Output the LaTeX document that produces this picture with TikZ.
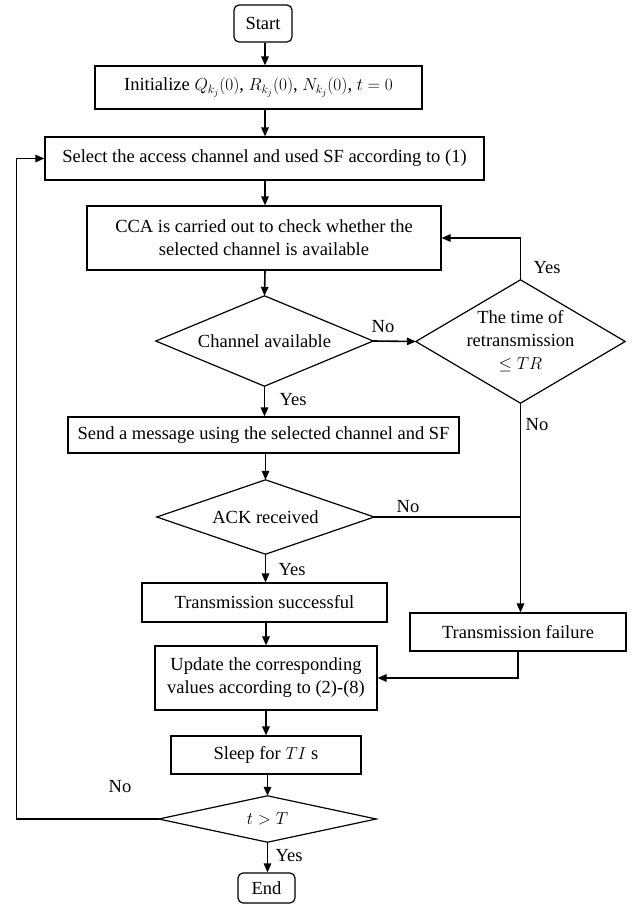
\documentclass[tikz,border=0pt]{standalone}
\usepackage{fontspec}
\setmainfont{Liberation Serif}
\usetikzlibrary{arrows.meta,calc}
\newcommand\flfont{\fontsize{18.5}{23}\selectfont}
\begin{document}
\begin{tikzpicture}[x=1pt,y=-1pt,
  box/.style={draw,line width=1.2pt,inner sep=0pt,align=center,font=\flfont},
  term/.style={box,rounded corners=5pt},
  dia/.style={inner sep=0pt,align=center,font=\flfont},
  diaedge/.style={line width=1.2pt,line join=miter},
  arr/.style={line width=1.6pt,-{Triangle[length=9pt,width=7.5pt]}},
  ln/.style={line width=1.2pt},
  lab/.style={inner sep=0pt,font=\flfont}]
\useasboundingbox (0,0) rectangle (635,905);
% nodes
\node[term,minimum width=58pt,minimum height=37pt] (start) at (263,23.5) {Start};
\node[box,minimum width=327pt,minimum height=43pt] (init) at (258.5,87.5)
  {Initialize $Q_{k_j}(0)$, $R_{k_j}(0)$, $N_{k_j}(0)$, $t=0$};
\node[box,minimum width=439pt,minimum height=43pt] (select) at (264.5,158.5)
  {Select the access channel and used SF according to (1)};
\node[box,minimum width=354pt,minimum height=64pt] (cca) at (264,238)
  {CCA is carried out to check whether the\\selected channel is available};
\node[dia,minimum width=217pt,minimum height=90pt] (d1) at (264.5,341) {Channel available};
\node[dia,minimum width=209pt,minimum height=123pt] (d2) at (520.5,341.5)
  {The time of\\retransmission\\$\leq TR$};
\node[box,minimum width=391pt,minimum height=36pt] (send) at (263.5,435)
  {Send a message using the selected channel and SF};
\node[dia,minimum width=217pt,minimum height=74pt] (d3) at (265.5,517) {ACK received};
\node[box,minimum width=245pt,minimum height=39pt] (succ) at (264.5,602.5)
  {Transmission successful};
\node[box,minimum width=216pt,minimum height=38pt] (fail) at (518,632)
  {Transmission failure};
\node[box,minimum width=222pt,minimum height=64pt] (upd) at (266,678)
  {Update the corresponding\\values according to (2)-(8)};
\node[box,minimum width=190pt,minimum height=38pt] (sleep) at (266,755)
  {Sleep for $TI$ s};
\node[dia,minimum width=217pt,minimum height=46pt] (d4) at (267.5,819) {$t>T$};
\node[term,minimum width=57pt,minimum height=30pt] (end) at (266.5,888) {End};
% diamond outlines
\foreach \d in {d1,d2,d3,d4}
  \draw[diaedge] (\d.north) -- (\d.east) -- (\d.south) -- (\d.west) -- cycle;
% axis
\coordinate (ax) at (265,0);
\coordinate (jn) at (520,517);
\coordinate (lp) at (16.5,819);
% connectors
\draw[arr] (start.south -| ax) -- (init.north -| ax);
\draw[arr] (init.south -| ax) -- (select.north -| ax);
\draw[arr] (select.south -| ax) -- (cca.north -| ax);
\draw[arr] (cca.south -| ax) -- (d1.north);
\draw[arr] (d1.east) -- (d2.west);
\draw[arr] (d2.north) |- (cca.east);
\draw[arr] (d1.south) -- (send.north -| d1.south);
\draw[arr] (send.south -| d3.north) -- (d3.north);
\draw[ln] (d3.east) -- (jn);
\draw[arr] (d2.south) -- (fail.north -| d2.south);
\draw[arr] (d3.south) -- (succ.north -| d3.south);
\draw[arr] (succ.south -| upd.north) -- (upd.north);
\draw[arr] (fail.south) |- (upd.east);
\draw[arr] (upd.south) -- (sleep.north);
\draw[arr] (sleep.south -| d4.north) -- (d4.north);
\draw[arr,line width=1.2pt] (d4.west) -- (lp) |- (select.west);
\draw[arr] (d4.south) -- (end.north -| d4.south);
% labels
\node[lab] (l1) at (383,327) {No};
\node[lab] (l2) at (547,268) {Yes};
\node[lab] (l3) at (293,400) {Yes};
\node[lab] (l4) at (408,507) {No};
\node[lab] (l5) at (537,425) {No};
\node[lab] (l6) at (292,570) {Yes};
\node[lab] (l7) at (120,787) {No};
\node[lab] (l8) at (289,856) {Yes};
\end{tikzpicture}
\end{document}
